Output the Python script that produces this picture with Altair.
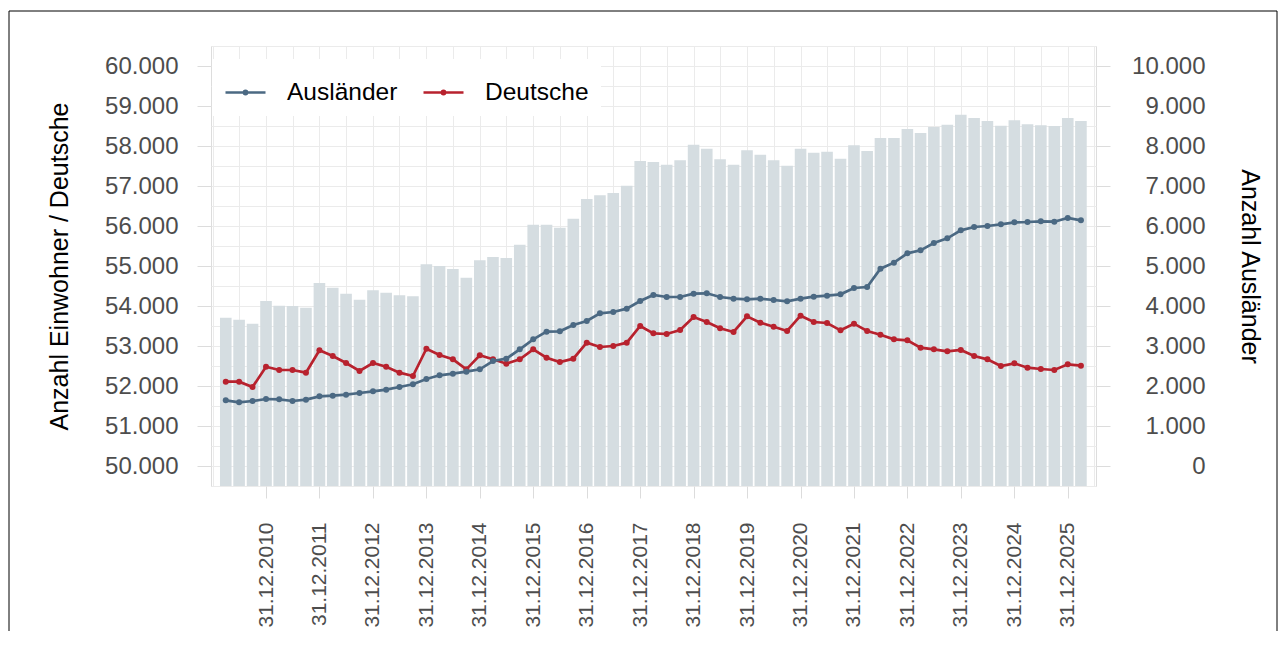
import altair as alt
import pandas as pd

# Quarterly reference dates (end of quarter)
dates = [f"{y}-{md}" for y in range(2010, 2027)
         for md in ("03-31", "06-30", "09-30", "12-31")][:65]

# Total inhabitants (bars, left axis)
einwohner = [53707, 53658, 53558, 54125, 54008, 54000, 53958, 54575, 54458, 54308,
             54158, 54392, 54333, 54267, 54242, 55042, 55000, 54925, 54708, 55142,
             55225, 55200, 55533, 56033, 56033, 55958, 56183, 56675, 56767, 56825,
             57008, 57625, 57600, 57533, 57642, 58033, 57933, 57667, 57533, 57892,
             57783, 57642, 57508, 57933, 57833, 57858, 57683, 58017, 57875, 58200,
             58200, 58425, 58325, 58475, 58533, 58783, 58700, 58625, 58508, 58642,
             58542, 58517, 58500, 58700, 58625]

# Germans (red line, left axis)
deutsche = [52108, 52108, 51975, 52483, 52400, 52400, 52333, 52892, 52750, 52575,
            52375, 52575, 52483, 52333, 52250, 52933, 52775, 52667, 52417, 52767,
            52667, 52558, 52667, 52917, 52708, 52600, 52683, 53083, 52975, 53000,
            53083, 53500, 53317, 53300, 53400, 53725, 53600, 53442, 53350, 53742,
            53583, 53483, 53375, 53758, 53600, 53575, 53392, 53558, 53375, 53283,
            53167, 53142, 52958, 52917, 52867, 52900, 52750, 52667, 52500, 52567,
            52458, 52425, 52400, 52542, 52508]

# Foreigners (blue line, right axis)
auslaender = [1642, 1592, 1625, 1675, 1667, 1625, 1658, 1742, 1758, 1783,
              1825, 1867, 1908, 1975, 2042, 2175, 2267, 2308, 2358, 2417,
              2625, 2683, 2917, 3167, 3358, 3367, 3525, 3625, 3817, 3850,
              3933, 4125, 4275, 4225, 4225, 4308, 4317, 4225, 4183, 4167,
              4183, 4150, 4117, 4183, 4233, 4258, 4292, 4450, 4475, 4933,
              5083, 5317, 5392, 5575, 5692, 5892, 5975, 6000, 6042, 6092,
              6100, 6117, 6108, 6200, 6142]

series_names = ["Ausländer", "Deutsche"]
series_colors = ["#4b6983", "#b8222e"]
bar_color = "#d5dde1"
FONT = "Liberation Sans"

df_bar = pd.DataFrame({"date": dates, "total": einwohner})
df_d = pd.DataFrame({"date": dates, "value": deutsche, "series": "Deutsche"})
df_a = pd.DataFrame({"date": dates, "value": auslaender, "series": "Ausländer"})

# x axis: grid every half year, labels/ticks at 31.12. (from 2010)
xvals = [alt.DateTime(year=2009, month=12, date=31, utc=True)]
for y in range(2010, 2027):
    xvals.append(alt.DateTime(year=y, month=6, date=30, utc=True))
    if y < 2026:
        xvals.append(alt.DateTime(year=y, month=12, date=31, utc=True))

major_test = "utcmonth(datum.value) == 11 && utcyear(datum.value) >= 2010"

xscale = alt.Scale(type="utc", padding=0,
                   domain=[alt.DateTime(year=2009, month=12, date=20, utc=True),
                           alt.DateTime(year=2026, month=7, date=12, utc=True)])
xaxis = alt.Axis(
    values=xvals,
    labelExpr=f"({major_test}) ? utcFormat(datum.value, '%d.%m.%Y') : ''",
    labelAngle=-90, labelAlign="right", labelBaseline="middle",
    labelFontSize=21, labelColor="#4d4d4d", labelFont=FONT, labelPadding=24,
    labelOverlap=False, labelFlush=False, labelBound=False,
    tickSize=12, tickColor="#dcdcdc",
    tickOpacity={"condition": {"test": major_test, "value": 1}, "value": 0},
    grid=True, gridColor="#ebebeb", gridWidth=1, domain=False, title=None,
)
x_enc = alt.X("date:T", scale=xscale, axis=xaxis)

yl_scale = alt.Scale(domain=[49500, 60500], nice=False, zero=False)
yl_axis = alt.Axis(
    values=list(range(49500, 60501, 500)),
    labelExpr="datum.value % 1000 == 0 ? replace(format(datum.value, ','), ',', '.') : ''",
    labelFontSize=24, labelColor="#4d4d4d", labelFont=FONT, labelPadding=19,
    tickSize=14, tickColor="#dcdcdc",
    tickOpacity={"condition": {"test": "datum.value % 1000 == 0", "value": 1}, "value": 0},
    grid=True, gridColor="#ebebeb", gridWidth=1, domain=False,
    title="Anzahl Einwohner / Deutsche", titleFontSize=25, titleFontWeight="normal",
    titleColor="black", titleFont=FONT, titlePadding=32,
)
yr_scale = alt.Scale(domain=[-500, 10500], nice=False, zero=False)
yr_axis = alt.Axis(
    orient="right",
    values=list(range(0, 10001, 1000)),
    labelExpr="replace(format(datum.value, ','), ',', '.')",
    labelFontSize=24, labelColor="#4d4d4d", labelFont=FONT,
    labelAlign="right", labelPadding=95,
    tickSize=14, tickColor="#dcdcdc", grid=False, domain=False,
    title="Anzahl Ausländer", titleFontSize=25, titleFontWeight="normal",
    titleColor="black", titleFont=FONT, titlePadding=31,
)

legend = alt.Legend(
    title=None, orient="none", legendX=1, legendY=13, direction="horizontal",
    fillColor="white", padding=12, labelFontSize=24.5, labelFont=FONT,
    labelColor="black", labelOffset=20, columnPadding=20,
    symbolType="M-1,0L1,0M-0.08,0A0.08,0.08 0 1,1 0.08,0A0.08,0.08 0 1,1 -0.08,0",
    symbolSize=1600, symbolStrokeWidth=2.6,
)
color_enc = alt.Color("series:N",
                      scale=alt.Scale(domain=series_names, range=series_colors),
                      legend=legend)

bars = alt.Chart(df_bar).mark_bar(width=11.6, color=bar_color).encode(
    x=x_enc,
    y=alt.Y("total:Q", scale=yl_scale, axis=yl_axis),
    y2=alt.datum(49500),
)
line_d = alt.Chart(df_d).mark_line(
    strokeWidth=2.7, point=alt.OverlayMarkDef(size=36, filled=True)
).encode(
    x=x_enc,
    y=alt.Y("value:Q", scale=yl_scale, axis=yl_axis),
    color=color_enc,
)
line_a = alt.Chart(df_a).mark_line(
    strokeWidth=2.7, point=alt.OverlayMarkDef(size=36, filled=True)
).encode(
    x=x_enc,
    y=alt.Y("value:Q", scale=yr_scale, axis=yr_axis),
    color=color_enc,
)

frame_df = pd.DataFrame({"k": [0]})
frame_top = alt.Chart(frame_df).mark_rule(color="black", strokeWidth=1).encode(
    x=alt.value(-202), x2=alt.value(1066), y=alt.value(-35))
frame_left = alt.Chart(frame_df).mark_rule(color="black", strokeWidth=1).encode(
    x=alt.value(-202), y=alt.value(-35), y2=alt.value(585))
frame_right = alt.Chart(frame_df).mark_rule(color="black", strokeWidth=1).encode(
    x=alt.value(1066), y=alt.value(-35), y2=alt.value(585))

left = alt.layer(bars, line_d)
chart = alt.layer(left, line_a, frame_top, frame_left, frame_right).resolve_scale(
    y="independent"
).properties(
    width=885, height=440,
    padding={"top": 2, "left": 0, "right": 0, "bottom": 0},
    background="white",
).configure_view(stroke=None).configure(font=FONT)

chart.save("out.html", embed_options={"renderer": "svg", "actions": False})
